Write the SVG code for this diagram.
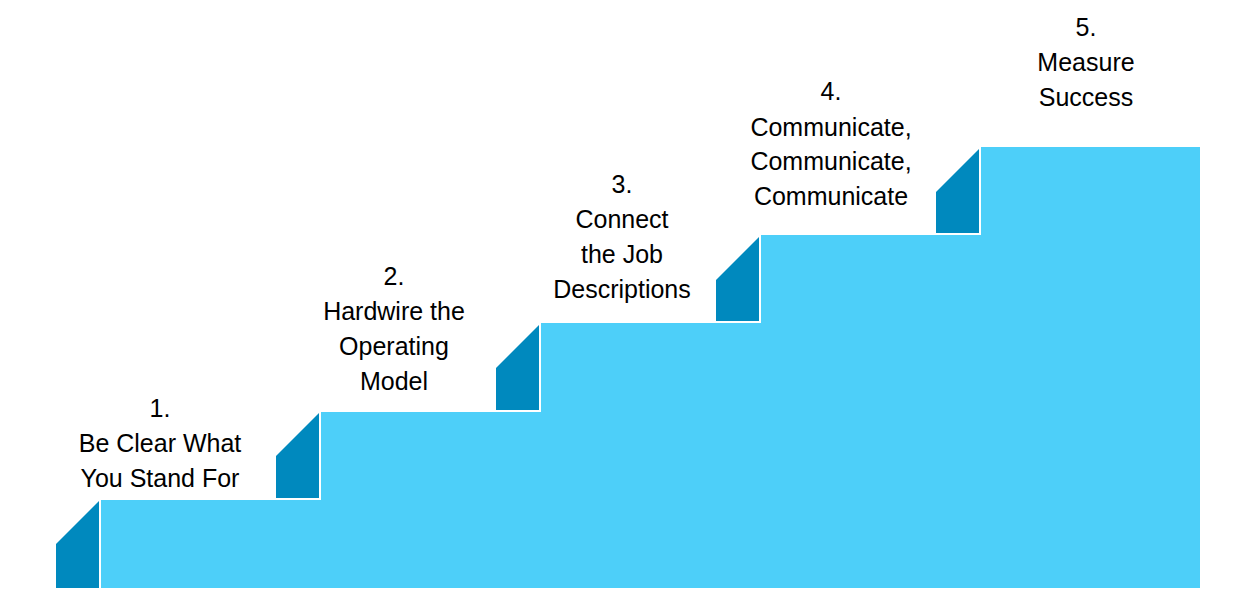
<svg xmlns="http://www.w3.org/2000/svg" width="1243" height="591" viewBox="0 0 1243 591">
<style>
.l{fill:#4DCFF9}.d{fill:#0089BE}
text{font-family:"Liberation Sans",Arial,sans-serif;font-size:25px;fill:#000;text-anchor:middle}
</style>
<rect width="1243" height="591" fill="#fff"/>
<g id="step1"><polygon class="d" points="56,544 99,501 99,588 56,588"/><rect class="l" x="101" y="500" width="220" height="88"/>
<text x="160" y="417">1.</text><text x="160" y="452">Be Clear What</text><text x="160" y="487">You Stand For</text></g>
<g id="step2"><polygon class="d" points="276,456 319,413 319,498 276,498"/><rect class="l" x="321" y="412" width="220" height="176"/>
<text x="394" y="285">2.</text><text x="394" y="320">Hardwire the</text><text x="394" y="355">Operating</text><text x="394" y="390">Model</text></g>
<g id="step3"><polygon class="d" points="496,368 539,325 539,410 496,410"/><rect class="l" x="541" y="323" width="220" height="265"/>
<text x="622" y="193">3.</text><text x="622" y="228">Connect</text><text x="622" y="263">the Job</text><text x="622" y="298">Descriptions</text></g>
<g id="step4"><polygon class="d" points="716,280 759,237 759,321 716,321"/><rect class="l" x="761" y="235" width="220" height="353"/>
<text x="831" y="100">4.</text><text x="831" y="136">Communicate,</text><text x="831" y="170">Communicate,</text><text x="831" y="205">Communicate</text></g>
<g id="step5"><polygon class="d" points="936,192 979,149 979,233 936,233"/><rect class="l" x="981" y="147" width="219" height="441"/>
<text x="1086" y="36">5.</text><text x="1086" y="71">Measure</text><text x="1086" y="106">Success</text></g>
<g id="connectors"/>
</svg>
